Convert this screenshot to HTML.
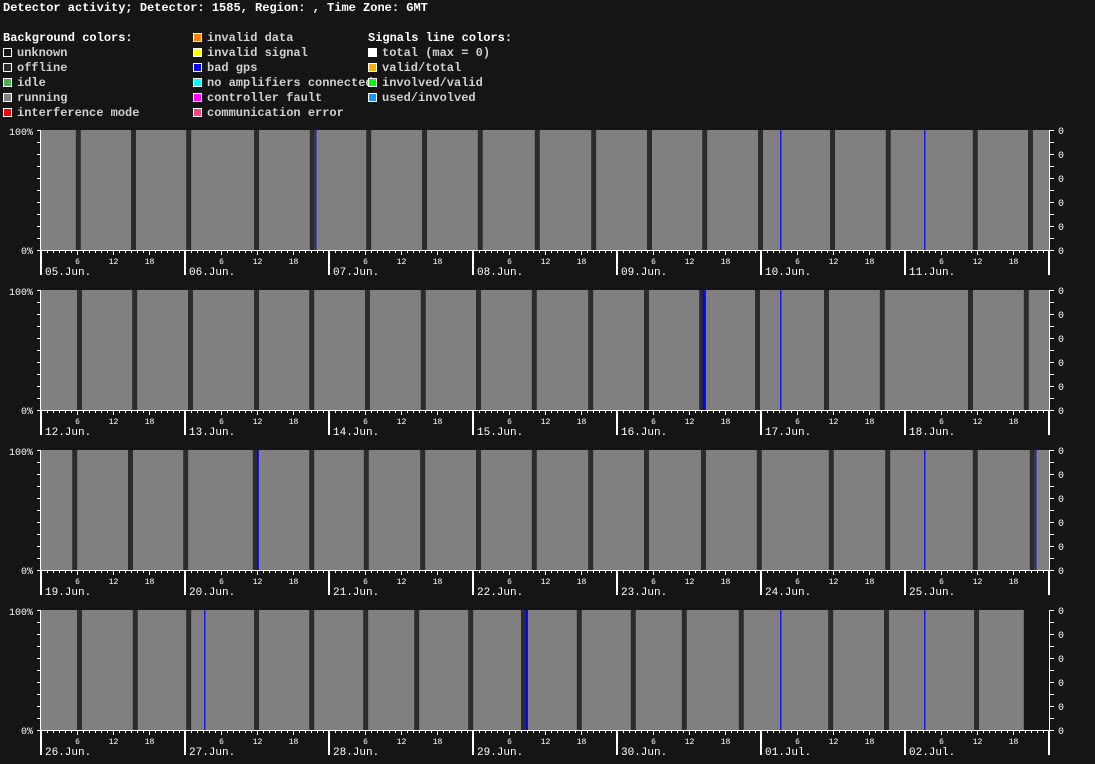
<!DOCTYPE html>
<html><head><meta charset="utf-8"><style>
html,body{margin:0;padding:0;background:#151515;}
svg{display:block;font-family:"Liberation Mono",monospace;}
</style></head><body>
<svg id="c" width="1095" height="764" xmlns="http://www.w3.org/2000/svg">
<rect width="1095" height="764" fill="#151515"/>
<text x="3" y="11" fill="#fff" font-size="12" font-weight="bold">Detector activity; Detector: 1585, Region: , Time Zone: GMT</text>
<g id="legend"></g>
<g id="panels"></g>
</svg>
<script>
const NS="http://www.w3.org/2000/svg";
const dayLabels=[
 ["05.Jun.","06.Jun.","07.Jun.","08.Jun.","09.Jun.","10.Jun.","11.Jun."],
 ["12.Jun.","13.Jun.","14.Jun.","15.Jun.","16.Jun.","17.Jun.","18.Jun."],
 ["19.Jun.","20.Jun.","21.Jun.","22.Jun.","23.Jun.","24.Jun.","25.Jun."],
 ["26.Jun.","27.Jun.","28.Jun.","29.Jun.","30.Jun.","01.Jul.","02.Jul."]];
// offline gaps: start hour in the week
const gaps1=[5.8,15,24.2,35.5,44.8,54.2,63.5,72.8,82.3,91.7,101,110.2,119.5,131.5,140.8,155.3,164.5];
const gaps2=[6,15.2,24.5,35.5,44.7,54,63.3,72.5,81.8,91.2,100.5,109.7,119,130.5,139.8,154.5,163.8];
const gaps3=[5.2,14.5,23.7,35.3,44.7,53.8,63.2,72.5,81.8,91.2,100.5,110,119.3,131.3,140.7,155.3,164.8];
const gaps4=[6,15.3,24.2,35.5,44.7,53.7,62.2,71.2,80,89.3,98.3,106.8,116.3,131.2,140.5,155.5];
const gaps=[gaps1,gaps2,gaps3,gaps4];
const gapLen=0.83;
// bad gps markers: [hour, duration]
const gps1=[[45.7,0.2],[123.2,0.2],[147.2,0.2]];
const gps2=[[110.3,0.5],[123.2,0.2]];
const gps3=[[36,0.3],[147.2,0.2],[165.7,0.2]];
const gps4=[[27.2,0.2],[80.8,0.35],[123.2,0.2],[147.2,0.2]];
const gps=[gps1,gps2,gps3,gps4];
const dataEnd=[168,168,168,163.8];
const yTickCount=10, rightLabels=["0","0","0","0","0","0"];
const X0=41,HW=6,PH=120,tops=[130,290,450,610];
function xs(h){return X0+h*HW;}
function el(t,a,p){const e=document.createElementNS(NS,t);for(const k in a)e.setAttribute(k,a[k]);p.appendChild(e);return e;}
// legend
const L=document.getElementById('legend');
const cols=[
 {x:3,title:"Background colors:",items:[["unknown","#151515"],["offline","#2b2b2b"],["idle","#4caf50"],["running","#808080"],["interference mode","#ff0000"]]},
 {x:193,title:null,items:[["invalid data","#ff7f00"],["invalid signal","#ffff00"],["bad gps","#0000ff"],["no amplifiers connected","#00ffff"],["controller fault","#ff00ff"],["communication error","#ff4080"]]},
 {x:368,title:"Signals line colors:",items:[["total (max = 0)","#ffffff"],["valid/total","#ffb000"],["involved/valid","#00ff00"],["used/involved","#1e90ff"]]}];
cols.forEach(c=>{let row=0;
 if(c.title){const t=el('text',{x:c.x,y:41,fill:'#fff','font-size':12,'font-weight':'bold'},L);t.textContent=c.title;
 
 row=1;}
 c.items.forEach(it=>{const y=33+row*15;
  const g=el('g',{},L);
  
  
  el('rect',{x:c.x+0.5,y:y+0.5,width:8,height:8,fill:it[1],stroke:'#fff','stroke-width':1},g);
  const t=el('text',{x:c.x+14,y:y+8,fill:'#d0d0d0','font-size':12,'font-weight':'bold'},g);t.textContent=it[0];
  row++;});});
// panels
const P=document.getElementById('panels');
tops.forEach((top,pi)=>{
 const g=el('g',{},P);
 
 
 const bot=top+PH;
 const run=el('rect',{x:xs(0),y:top,width:xs(dataEnd[pi])-xs(0),height:PH,fill:'#808080'},g);
 
 
 gaps[pi].forEach(h=>{const r=el('rect',{x:xs(h),y:top,width:gapLen*HW,height:PH,fill:'#2b2b2b'},g);
  
  });
 gps[pi].forEach(m=>{const r=el('rect',{x:xs(m[0]),y:top,width:Math.max(1,m[1]*HW),height:PH,fill:'#0000ff'},g);
  
  });
 // left axis
 el('line',{x1:40.5,y1:top,x2:40.5,y2:bot,stroke:'#fff'},g);
 for(let i=0;i<=yTickCount;i++){const y=top+i*PH/yTickCount+0.5;el('line',{x1:37,y1:y,x2:40,y2:y,stroke:'#fff'},g);}
 const t1=el('text',{x:33,y:top+5,fill:'#fff','font-size':10,'text-anchor':'end'},g);t1.textContent='100%';
 
 
 const t0=el('text',{x:33,y:bot+4,fill:'#fff','font-size':10,'text-anchor':'end'},g);t0.textContent='0%';
 
 
 // right axis
 el('line',{x1:1049.5,y1:top,x2:1049.5,y2:bot,stroke:'#fff'},g);
 for(let i=0;i<=yTickCount;i++){const y=top+i*PH/yTickCount+0.5;el('line',{x1:1050,y1:y,x2:1054,y2:y,stroke:'#fff'},g);}
 rightLabels.forEach((lb,i)=>{const t=el('text',{x:1058,y:top+i*24+4,fill:'#fff','font-size':10},g);t.textContent=lb;
  
  });
 // x axis
 el('line',{x1:40,y1:bot+0.5,x2:1050,y2:bot+0.5,stroke:'#fff'},g);
 for(let h=0;h<168;h++){const x=xs(h)+0.5;const hr=h%24;
  if(hr===0){el('rect',{x:xs(h)-1,y:bot,width:2,height:25,fill:'#fff'},g);
   const t=el('text',{x:xs(h)+4,y:bot+25,fill:'#fff','font-size':11},g);t.textContent=dayLabels[pi][h/24];
   
   }
  else{el('line',{x1:x,y1:bot,x2:x,y2:bot+(hr%6===0?5:3),stroke:'#fff'},g);
   if(hr%6===0){const t=el('text',{x:x,y:bot+14,fill:'#fff','font-size':8,'text-anchor':'middle'},g);t.textContent=String(hr);
    
    }}}
 el('rect',{x:1048,y:bot,width:2,height:25,fill:'#fff'},g);
});
</script>
</body></html>
